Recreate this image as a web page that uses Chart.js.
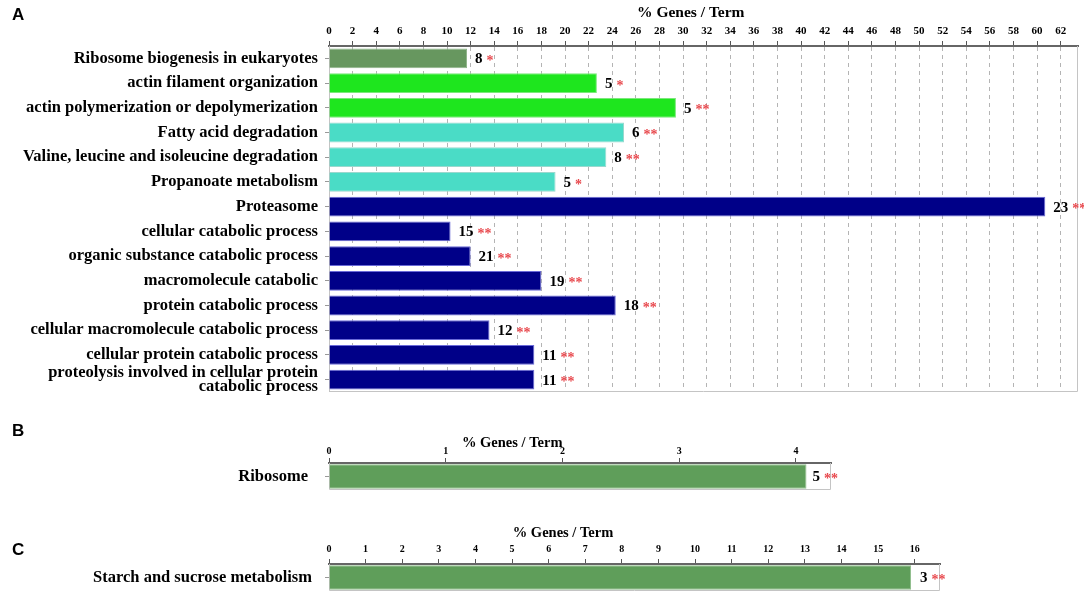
<!DOCTYPE html>
<html>
<head>
<meta charset="utf-8">
<script src="https://cdn.jsdelivr.net/npm/chart.js@4/dist/chart.umd.min.js"></script>
<style>
  body { margin: 0; background: #fff; width: 1084px; height: 604px; position: relative; overflow: hidden; }
  .panel { position: absolute; left: 0; width: 1084px; }
  .letter { position: absolute; left: 12px; font: bold 17px "Liberation Sans", Arial, sans-serif; color: #000; }
</style>
</head>
<body>
<div class="panel" style="top:0;height:400px"><canvas id="chartA"></canvas></div>
<div class="panel" style="top:420px;height:80px"><canvas id="chartB"></canvas></div>
<div class="panel" style="top:510px;height:94px"><canvas id="chartC"></canvas></div>
<div class="letter" style="top:5px">A</div>
<div class="letter" style="top:421px">B</div>
<div class="letter" style="top:540px">C</div>
<script>
// panel A
const categoriesA = [
  "Ribosome biogenesis in eukaryotes",
  "actin filament organization",
  "actin polymerization or depolymerization",
  "Fatty acid degradation",
  "Valine, leucine and isoleucine degradation",
  "Propanoate metabolism",
  "Proteasome",
  "cellular catabolic process",
  "organic substance catabolic process",
  "macromolecule catabolic",
  "protein catabolic process",
  "cellular macromolecule catabolic process",
  "cellular protein catabolic process",
  ["proteolysis involved in cellular protein", "catabolic process"]
];
const percentA = [11.7, 22.7, 29.4, 25.0, 23.5, 19.2, 60.7, 10.3, 12.0, 18.0, 24.3, 13.6, 17.4, 17.4];
const countsA = [8, 5, 5, 6, 8, 5, 23, 15, 21, 19, 18, 12, 11, 11];
const starsA = ["*", "*", "**", "**", "**", "*", "**", "**", "**", "**", "**", "**", "**", "**"];
const ticksA = [0, 2, 4, 6, 8, 10, 12, 14, 16, 18, 20, 22, 24, 26, 28, 30, 32, 34, 36, 38, 40,
  42, 44, 46, 48, 50, 52, 54, 56, 58, 60, 62];
const colorsA = ["#67975f", "#1ee61e", "#1ee61e", "#4adcc6", "#4adcc6", "#4adcc6",
  "#000088", "#000088", "#000088", "#000088", "#000088", "#000088", "#000088", "#000088"];
const edgesA = ["#8db388", "#7ae87a", "#7ae87a", "#9ad8ce", "#9ad8ce", "#9ad8ce",
  "#6a6ad8", "#6a6ad8", "#6a6ad8", "#6a6ad8", "#6a6ad8", "#6a6ad8", "#6a6ad8", "#6a6ad8"];

// panel B
const categoriesB = ["Ribosome"];
const percentB = [4.09];
const countsB = [5];
const starsB = ["**"];
const ticksB = [0, 1, 2, 3, 4];

// panel C
const categoriesC = ["Starch and sucrose metabolism"];
const percentC = [15.9];
const countsC = [3];
const starsC = ["**"];
const ticksC = [0, 1, 2, 3, 4, 5, 6, 7, 8, 9, 10, 11, 12, 13, 14, 15, 16];

const serif = '"Liberation Serif", "Times New Roman", serif';

// light frame round the plot (top edge is the axis line)
const frame = {
  id: 'frame',
  beforeDatasetsDraw(chart) {
    const { ctx, chartArea: { left, top, right, bottom } } = chart;
    ctx.save();
    ctx.strokeStyle = '#c4c4c4';
    ctx.lineWidth = 1;
    ctx.beginPath();
    ctx.moveTo(left + 0.5, top);
    ctx.lineTo(left + 0.5, bottom - 0.5);
    ctx.lineTo(right - 0.5, bottom - 0.5);
    ctx.lineTo(right - 0.5, top);
    ctx.stroke();
    ctx.restore();
  }
};

// gene count + significance stars after each bar
const valueLabels = {
  id: 'valueLabels',
  afterDatasetsDraw(chart, args, opts) {
    const { ctx } = chart;
    const meta = chart.getDatasetMeta(0);
    ctx.save();
    ctx.textAlign = 'left';
    ctx.textBaseline = 'middle';
    meta.data.forEach((bar, i) => {
      const x = bar.x + opts.gap;
      const n = String(opts.counts[i]);
      ctx.font = 'bold 15px ' + serif;
      ctx.fillStyle = '#000';
      ctx.fillText(n, x, bar.y + 1);
      const w = ctx.measureText(n).width;
      ctx.font = 'bold 14px ' + serif;
      ctx.fillStyle = '#e8474c';
      ctx.fillText(opts.stars[i], x + w + 4, bar.y + 3);
    });
    ctx.restore();
  }
};

const axisTitle = {
  id: 'axisTitle',
  afterDraw(chart, args, opts) {
    const { ctx, chartArea } = chart;
    ctx.save();
    ctx.font = 'bold ' + opts.size + 'px ' + serif;
    ctx.fillStyle = '#000';
    ctx.textAlign = 'center';
    ctx.textBaseline = 'middle';
    ctx.fillText('% Genes / Term', chartArea.left + opts.frac * (chartArea.right - chartArea.left), chartArea.top - opts.lift);
    ctx.restore();
  }
};

function makeChart(id, cfg) {
  return new Chart(document.getElementById(id), {
    type: 'bar',
    data: {
      labels: cfg.labels,
      datasets: [{
        data: cfg.values,
        backgroundColor: cfg.colors,
        borderColor: cfg.edges,
        borderWidth: 1,
        barPercentage: cfg.barPct,
        categoryPercentage: 1
      }]
    },
    options: {
      indexAxis: 'y',
      responsive: true,
      maintainAspectRatio: false,
      animation: false,
      layout: { padding: cfg.padding },
      plugins: {
        legend: { display: false },
        tooltip: { enabled: false },
        valueLabels: { counts: cfg.counts, stars: cfg.stars, gap: cfg.gap },
        axisTitle: { frac: cfg.titleFrac, lift: cfg.titleLift, size: cfg.titleSize }
      },
      scales: {
        x: {
          position: 'top',
          min: 0,
          max: cfg.max,
          afterBuildTicks: s => { s.ticks = cfg.ticks.map(v => ({ value: v })); },
          afterFit: s => {
            s.height = cfg.axisHeight;
            s.paddingLeft = 0;
            s.paddingRight = 0;
          },
          ticks: {
            autoSkip: false,
            maxRotation: 0,
            padding: cfg.tickPad,
            color: '#000',
            font: { family: serif, weight: 'bold', size: cfg.tickSize }
          },
          grid: {
            drawOnChartArea: cfg.grid,
            color: '#b4b4b4',
            tickColor: '#555',
            tickLength: 5,
            tickBorderDash: []
          },
          border: { color: '#666', width: 2, dash: [4, 4] }
        },
        y: {
          afterFit: s => {
            s.width = 329;
            s.paddingTop = 0;
            s.paddingBottom = 0;
          },
          ticks: {
            autoSkip: false,
            padding: cfg.labelPad,
            color: '#000',
            font: { family: serif, weight: 'bold', size: 16.5, lineHeight: 0.86 }
          },
          grid: { drawOnChartArea: false, offset: false, tickLength: 4, color: '#999' },
          border: { display: false }
        }
      }
    },
    plugins: [frame, valueLabels, axisTitle]
  });
}

makeChart('chartA', {
  labels: categoriesA, values: percentA, counts: countsA, stars: starsA, ticks: ticksA,
  colors: colorsA, edges: edgesA, barPct: 0.8, max: 63.47,
  padding: { top: 0, right: 6, bottom: 8, left: 0 }, axisHeight: 46, tickSize: 11,
  tickPad: 3, labelPad: 7, grid: true, gap: 8, titleFrac: 0.483, titleLift: 33, titleSize: 15.5
});

makeChart('chartB', {
  labels: categoriesB, values: percentB, counts: countsB, stars: starsB, ticks: ticksB,
  colors: ['#5f9e5a'], edges: ['#8fbd8a'], barPct: 0.9, max: 4.3,
  padding: { top: 0, right: 253, bottom: 10, left: 0 }, axisHeight: 43, tickSize: 10,
  tickPad: 1, labelPad: 17, grid: false, gap: 6, titleFrac: 0.365, titleLift: 20, titleSize: 14.5
});

makeChart('chartC', {
  labels: categoriesC, values: percentC, counts: countsC, stars: starsC, ticks: ticksC,
  colors: ['#5f9e5a'], edges: ['#8fbd8a'], barPct: 0.9, max: 16.69,
  padding: { top: 0, right: 144, bottom: 13, left: 0 }, axisHeight: 54, tickSize: 10,
  tickPad: 4, labelPad: 13, grid: false, gap: 9, titleFrac: 0.383, titleLift: 31, titleSize: 14.5
});
</script>
</body>
</html>
